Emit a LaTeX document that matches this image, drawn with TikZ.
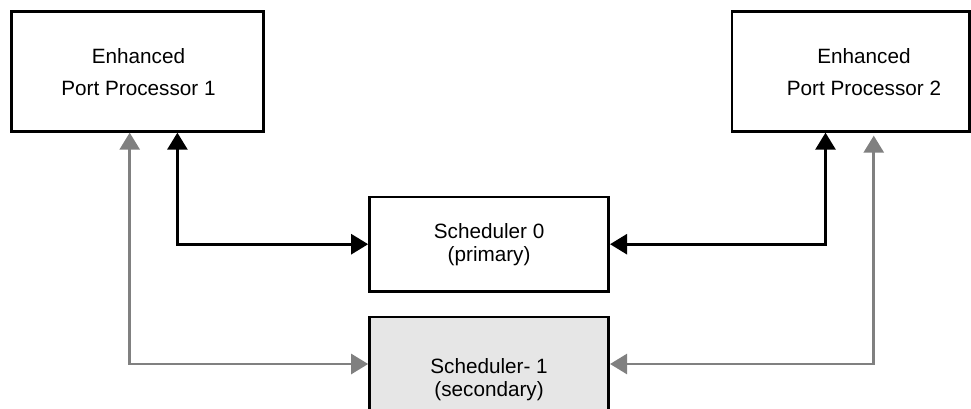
\documentclass[tikz,border=0pt]{standalone}
\usepackage{fontspec}
\setmainfont{Liberation Sans}
\usetikzlibrary{arrows.meta}
\definecolor{linegray}{HTML}{808080}
\definecolor{boxfill}{HTML}{E6E6E6}
\begin{document}
\begin{tikzpicture}[x=1pt,y=-1pt,
  box/.style={draw=black, line width=2.7pt, fill=white, inner sep=0pt},
  bigtext/.style={font=\fontsize{20.7}{32}\selectfont, align=center, inner sep=0pt},
  smalltext/.style={font=\fontsize{20.7}{23}\selectfont, align=center},
  blk/.style={draw=black, line width=2.7pt, {Triangle[length=17pt,width=20pt]}-{Triangle[length=17pt,width=20pt]}},
  gry/.style={draw=linegray, color=linegray, line width=2.7pt, {Triangle[length=17pt,width=20pt]}-{Triangle[length=17pt,width=20pt]}}]
\useasboundingbox (0,0) rectangle (971,409);
\clip (0,0) rectangle (971,409);

% Enhanced Port Processors
\node[box, minimum width=252.2pt, minimum height=120pt] (e1) at (137.4,71.3) {};
\node[bigtext] (e1t) at (138.5,72) {Enhanced\\Port Processor 1};
\node[box, minimum width=237.5pt, minimum height=120pt] (e2) at (850.75,71.3) {};
\node[bigtext] (e2t) at (864,72) {Enhanced\\Port Processor 2};

% Schedulers
\node[box, smalltext, minimum width=239.2pt, minimum height=94.3pt] (s0) at (489.1,244.2) {Scheduler 0\\(primary)};
\node[box, smalltext, fill=boxfill, minimum width=239.2pt, minimum height=126pt] (s1) at (489.1,380) {Scheduler- 1\\(secondary)};

% Connectors
\draw[blk] ([xshift=40pt]e1.south) |- (s0.west);
\draw[blk] ([xshift=-25.25pt]e2.south) |- (s0.east);
\draw[gry] ([xshift=-7.7pt]e1.south) |- ([yshift=16pt]s1.west);
\draw[gry] ([xshift=23pt,yshift=-3pt]e2.south) |- ([yshift=16pt]s1.east);
\end{tikzpicture}
\end{document}
